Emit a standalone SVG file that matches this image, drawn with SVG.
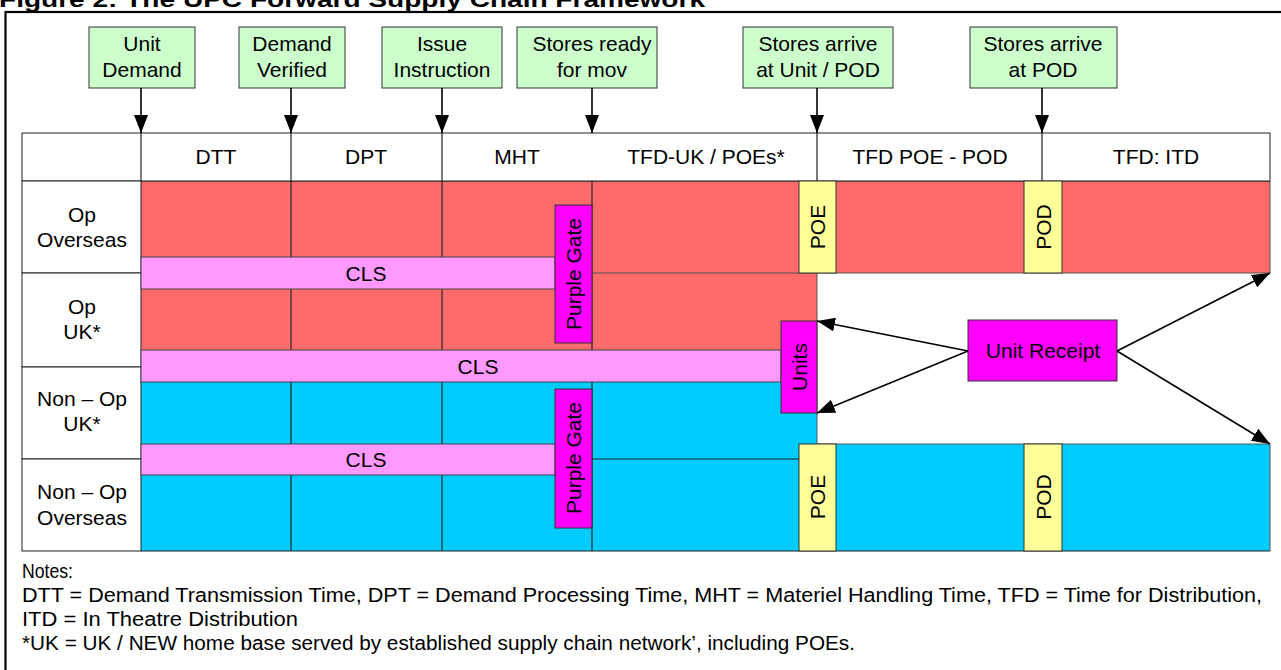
<svg xmlns="http://www.w3.org/2000/svg" width="1281" height="670" viewBox="0 0 1281 670">
  <defs>
    <style>
      text { font-family: "Liberation Sans", Arial, sans-serif; fill: #000; }
      .lbl { font-size: 21px; text-anchor: middle; }
      .vlbl { font-size: 21px; text-anchor: middle; }
      .note { font-size: 19.5px; }
      .title { font-size: 22px; font-weight: bold; }
      .green { fill: #ccffcc; stroke: #333; stroke-width: 1; }
      .red { fill: #ff6b6b; stroke: none; }
      .blue { fill: #00ccff; stroke: none; }
      .cls { fill: #ff99ff; stroke: #444; stroke-width: 1; }
      .mag { fill: #ff00ff; stroke: #333; stroke-width: 1; }
      .yel { fill: #ffff99; stroke: #333; stroke-width: 1; }
      .cell { fill: #fff; stroke: #222; stroke-width: 1; }
      .grid { stroke: #222; stroke-width: 1.2; fill: none; }
      .edge { stroke: #555; stroke-width: 1; fill: none; }
      .conn { stroke: #000; stroke-width: 1.6; fill: none; }
    </style>
    <marker id="ah" viewBox="0 0 18 14" refX="18" refY="7" markerWidth="18" markerHeight="14" markerUnits="userSpaceOnUse" orient="auto">
      <path d="M0,0 L18,7 L0,14 z" fill="#000"/>
    </marker>
  </defs>

  <!-- figure caption, partly above the frame -->
  <text class="title" x="-1" y="7" textLength="706" lengthAdjust="spacingAndGlyphs">Figure 2: The UPC Forward Supply Chain Framework</text>

  <!-- outer frame -->
  <rect x="5.5" y="12" width="1300" height="700" fill="none" stroke="#000" stroke-width="2.2"/>

  <!-- coloured bands -->
  <g id="bands">
    <rect class="red" x="141" y="181" width="451" height="169"/>
    <rect class="red" x="592" y="181" width="225" height="169"/>
    <rect class="red" x="817" y="181" width="453" height="92"/>
    <rect class="blue" x="141" y="382" width="451" height="169"/>
    <rect class="blue" x="592" y="382" width="225" height="169"/>
    <rect class="blue" x="817" y="444" width="453" height="107"/>
  </g>

  <!-- grid lines through the bands -->
  <g id="grid">
    <line class="grid" x1="291" y1="181" x2="291" y2="551"/>
    <line class="grid" x1="442" y1="181" x2="442" y2="551"/>
    <line class="grid" x1="592" y1="133" x2="592" y2="551"/>
    <line class="edge" x1="592" y1="273" x2="1270" y2="273"/>
    <line class="edge" x1="1270" y1="181" x2="1270" y2="273"/>
    <line class="edge" x1="817" y1="273" x2="817" y2="444"/>
    <line class="grid" x1="592" y1="459" x2="799" y2="459"/>
    <line class="edge" x1="817" y1="444" x2="1270" y2="444"/>
    <line class="edge" x1="1270" y1="444" x2="1270" y2="551"/>
    <line class="grid" x1="141" y1="551" x2="1270" y2="551"/>
    <line class="grid" x1="141" y1="181" x2="1270" y2="181"/>
  </g>

  <!-- header row -->
  <g id="header">
    <rect class="cell" x="22" y="133" width="1248" height="48"/>
    <line class="grid" x1="141" y1="133" x2="141" y2="181"/>
    <line class="grid" x1="291" y1="133" x2="291" y2="181"/>
    <line class="grid" x1="442" y1="133" x2="442" y2="181"/>
    <line class="grid" x1="817" y1="133" x2="817" y2="181"/>
    <line class="grid" x1="1042" y1="133" x2="1042" y2="181"/>
    <text class="lbl" x="216" y="164">DTT</text>
    <text class="lbl" x="366" y="164">DPT</text>
    <text class="lbl" x="517" y="164">MHT</text>
    <text class="lbl" x="706" y="164">TFD-UK / POEs*</text>
    <text class="lbl" x="930" y="164">TFD POE - POD</text>
    <text class="lbl" x="1156" y="164">TFD: ITD</text>
  </g>

  <!-- row labels -->
  <g id="row-op-overseas">
    <rect class="cell" x="22" y="181" width="119" height="92"/>
    <text class="lbl" x="82" y="222">Op</text>
    <text class="lbl" x="82" y="247">Overseas</text>
  </g>
  <g id="row-op-uk">
    <rect class="cell" x="22" y="273" width="119" height="94"/>
    <text class="lbl" x="82" y="314">Op</text>
    <text class="lbl" x="82" y="339">UK*</text>
  </g>
  <g id="row-nonop-uk">
    <rect class="cell" x="22" y="367" width="119" height="92"/>
    <text class="lbl" x="82" y="406">Non – Op</text>
    <text class="lbl" x="82" y="431">UK*</text>
  </g>
  <g id="row-nonop-overseas">
    <rect class="cell" x="22" y="459" width="119" height="92"/>
    <text class="lbl" x="82" y="499">Non – Op</text>
    <text class="lbl" x="82" y="525">Overseas</text>
  </g>

  <!-- CLS bands -->
  <g id="cls-1">
    <rect class="cls" x="141" y="257" width="414" height="32"/>
    <text class="lbl" x="366" y="281">CLS</text>
  </g>
  <g id="cls-2">
    <rect class="cls" x="141" y="350" width="640" height="32"/>
    <text class="lbl" x="478" y="374">CLS</text>
  </g>
  <g id="cls-3">
    <rect class="cls" x="141" y="444" width="414" height="31"/>
    <text class="lbl" x="366" y="467">CLS</text>
  </g>

  <!-- gates and ports -->
  <g id="purple-gate-1">
    <rect class="mag" x="555" y="205" width="37" height="138"/>
    <text class="vlbl" transform="translate(581,274) rotate(-90)">Purple Gate</text>
  </g>
  <g id="purple-gate-2">
    <rect class="mag" x="555" y="389" width="37" height="139"/>
    <text class="vlbl" transform="translate(581,458) rotate(-90)">Purple Gate</text>
  </g>
  <g id="poe-1">
    <rect class="yel" x="799" y="181" width="37" height="92"/>
    <text class="vlbl" transform="translate(825,227) rotate(-90)">POE</text>
  </g>
  <g id="pod-1">
    <rect class="yel" x="1024" y="181" width="38" height="92"/>
    <text class="vlbl" transform="translate(1051,227) rotate(-90)">POD</text>
  </g>
  <g id="poe-2">
    <rect class="yel" x="799" y="444" width="37" height="107"/>
    <text class="vlbl" transform="translate(825,497) rotate(-90)">POE</text>
  </g>
  <g id="pod-2">
    <rect class="yel" x="1024" y="444" width="38" height="107"/>
    <text class="vlbl" transform="translate(1051,497) rotate(-90)">POD</text>
  </g>
  <g id="units">
    <rect class="mag" x="781" y="321" width="36" height="92"/>
    <text class="vlbl" transform="translate(807,367) rotate(-90)">Units</text>
  </g>
  <g id="unit-receipt">
    <rect class="mag" x="968" y="320" width="149" height="61"/>
    <text class="lbl" x="1043" y="358">Unit Receipt</text>
  </g>

  <!-- milestone boxes -->
  <g id="ms-unit-demand">
    <rect class="green" x="89" y="27" width="106" height="61"/>
    <text class="lbl" x="142" y="51">Unit</text>
    <text class="lbl" x="142" y="77">Demand</text>
  </g>
  <g id="ms-demand-verified">
    <rect class="green" x="239" y="27" width="106" height="61"/>
    <text class="lbl" x="292" y="51">Demand</text>
    <text class="lbl" x="292" y="77">Verified</text>
  </g>
  <g id="ms-issue-instruction">
    <rect class="green" x="382" y="27" width="120" height="61"/>
    <text class="lbl" x="442" y="51">Issue</text>
    <text class="lbl" x="442" y="77">Instruction</text>
  </g>
  <g id="ms-stores-ready">
    <rect class="green" x="517" y="27" width="140" height="61"/>
    <text class="lbl" x="592" y="51">Stores ready</text>
    <text class="lbl" x="592" y="77">for mov</text>
  </g>
  <g id="ms-arrive-unit-pod">
    <rect class="green" x="743" y="27" width="150" height="61"/>
    <text class="lbl" x="818" y="51">Stores arrive</text>
    <text class="lbl" x="818" y="77">at Unit / POD</text>
  </g>
  <g id="ms-arrive-pod">
    <rect class="green" x="970" y="27" width="147" height="61"/>
    <text class="lbl" x="1043" y="51">Stores arrive</text>
    <text class="lbl" x="1043" y="77">at POD</text>
  </g>

  <!-- connectors -->
  <g id="connectors">
    <line class="conn" x1="141" y1="88" x2="141" y2="133" marker-end="url(#ah)"/>
    <line class="conn" x1="291" y1="88" x2="291" y2="133" marker-end="url(#ah)"/>
    <line class="conn" x1="442" y1="88" x2="442" y2="133" marker-end="url(#ah)"/>
    <line class="conn" x1="592" y1="88" x2="592" y2="133" marker-end="url(#ah)"/>
    <line class="conn" x1="817" y1="88" x2="817" y2="133" marker-end="url(#ah)"/>
    <line class="conn" x1="1042" y1="88" x2="1042" y2="133" marker-end="url(#ah)"/>
    <line class="conn" x1="968" y1="351" x2="817" y2="321" marker-end="url(#ah)"/>
    <line class="conn" x1="968" y1="351" x2="817" y2="413" marker-end="url(#ah)"/>
    <line class="conn" x1="1117" y1="351" x2="1270" y2="273" marker-end="url(#ah)"/>
    <line class="conn" x1="1117" y1="351" x2="1270" y2="444" marker-end="url(#ah)"/>
  </g>

  <!-- notes -->
  <g id="notes">
    <text class="note" x="22" y="578" textLength="51" lengthAdjust="spacingAndGlyphs">Notes:</text>
    <text class="note" x="22" y="602" textLength="1240" lengthAdjust="spacingAndGlyphs">DTT = Demand Transmission Time, DPT = Demand Processing Time, MHT = Materiel Handling Time, TFD = Time for Distribution,</text>
    <text class="note" x="22" y="626" textLength="276" lengthAdjust="spacingAndGlyphs">ITD = In Theatre Distribution</text>
    <text class="note" x="22" y="650" textLength="833" lengthAdjust="spacingAndGlyphs">*UK = UK / NEW home base served by established supply chain network’, including POEs.</text>
  </g>
</svg>
